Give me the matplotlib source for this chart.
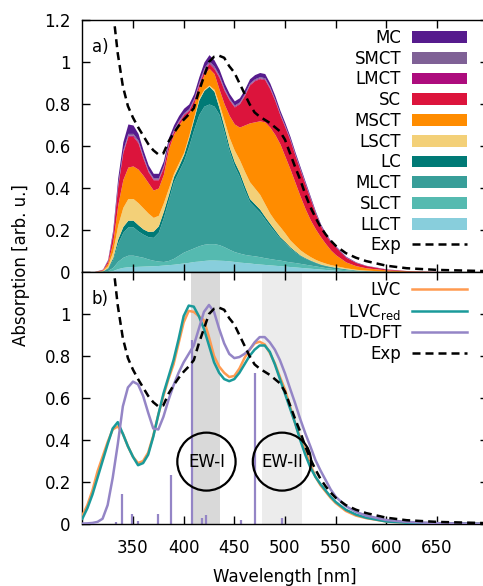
import numpy as np
import matplotlib
matplotlib.use('Agg')
import matplotlib.pyplot as plt
from matplotlib.patches import Ellipse
from matplotlib.ticker import FuncFormatter

# ---------------- panel a) : stacked decomposition ----------------
wl = [300, 310, 320, 325, 330, 335, 340, 345, 350, 355,
      360, 365, 370, 375, 380, 385, 390, 395, 400, 405,
      410, 415, 420, 425, 430, 435, 440, 445, 450, 455,
      460, 465, 470, 475, 480, 485, 490, 495, 500, 505,
      510, 515, 520, 525, 530, 535, 540, 545, 550,
      560, 570, 580, 600, 620, 650, 700]

# upper edge of the whole stack (top of MC)
total = [0, 0, 0.014, 0.06, 0.20, 0.45, 0.62, 0.705, 0.70, 0.66,
         0.58, 0.51, 0.47, 0.47, 0.53, 0.64, 0.70, 0.745, 0.78, 0.80,
         0.85, 0.93, 1.00, 1.035, 1.01, 0.965, 0.90, 0.85, 0.815, 0.83,
         0.87, 0.92, 0.94, 0.95, 0.945, 0.90, 0.84, 0.77, 0.71, 0.645,
         0.57, 0.50, 0.43, 0.36, 0.29, 0.23, 0.185, 0.15, 0.125,
         0.075, 0.048, 0.032, 0.015, 0.007, 0.003, 0.0]
# thin bands (thickness)
mc = [0, 0, 0.001, 0.004, 0.012, 0.029, 0.039, 0.045, 0.04, 0.033,
      0.028, 0.024, 0.022, 0.022, 0.022, 0.022, 0.022, 0.022, 0.022, 0.022,
      0.022, 0.025, 0.028, 0.03, 0.03, 0.028, 0.025, 0.022, 0.02, 0.02,
      0.02, 0.02, 0.02, 0.02, 0.02, 0.018, 0.017, 0.015, 0.014, 0.012,
      0.011, 0.01, 0.009, 0.008, 0.007, 0.006, 0.005, 0.004, 0.004,
      0.003, 0.002, 0.001, 0.001, 0, 0, 0]
smct = [0, 0, 0.0003, 0.001, 0.003, 0.006, 0.007, 0.008, 0.008, 0.007,
        0.006, 0.005, 0.005, 0.005, 0.005, 0.005, 0.005, 0.005, 0.005, 0.005,
        0.005, 0.006, 0.007, 0.007, 0.007, 0.006, 0.006, 0.005, 0.005, 0.005,
        0.005, 0.005, 0.005, 0.005, 0.005, 0.005, 0.004, 0.004, 0.004, 0.003,
        0.003, 0.003, 0.002, 0.002, 0.002, 0.002, 0.001, 0.001, 0.001,
        0.001, 0.0005, 0.0003, 0.0001, 0, 0, 0]
lmct = [0, 0, 0.0002, 0.001, 0.002, 0.004, 0.005, 0.006, 0.006, 0.005,
        0.005, 0.004, 0.004, 0.004, 0.004, 0.004, 0.004, 0.004, 0.004, 0.004,
        0.004, 0.005, 0.005, 0.005, 0.005, 0.005, 0.005, 0.004, 0.004, 0.004,
        0.004, 0.004, 0.004, 0.004, 0.004, 0.004, 0.003, 0.003, 0.003, 0.003,
        0.002, 0.002, 0.002, 0.002, 0.001, 0.001, 0.001, 0.001, 0.001,
        0.0005, 0.0003, 0.0002, 0.0001, 0, 0, 0]
# upper edges of the lower bands (cumulative)
msct_top = [0, 0, 0.010, 0.043, 0.14, 0.32, 0.44, 0.50, 0.505, 0.49,
            0.46, 0.425, 0.39, 0.40, 0.465, 0.585, 0.655, 0.70, 0.735, 0.755,
            0.80, 0.875, 0.94, 0.97, 0.945, 0.87, 0.80, 0.745, 0.705, 0.69,
            0.70, 0.71, 0.715, 0.72, 0.715, 0.69, 0.655, 0.61, 0.55, 0.49,
            0.425, 0.36, 0.30, 0.248, 0.205, 0.168, 0.135, 0.105, 0.082,
            0.048, 0.03, 0.02, 0.01, 0.005, 0.002, 0]
lsct_top = [0, 0, 0.007, 0.030, 0.098, 0.224, 0.308, 0.35, 0.35, 0.33,
            0.305, 0.28, 0.26, 0.27, 0.33, 0.40, 0.47, 0.52, 0.57, 0.65,
            0.74, 0.83, 0.87, 0.89, 0.87, 0.80, 0.72, 0.64, 0.58, 0.535,
            0.48, 0.43, 0.40, 0.37, 0.325, 0.28, 0.245, 0.216, 0.185, 0.152,
            0.128, 0.105, 0.088, 0.073, 0.06, 0.05, 0.042, 0.035, 0.03,
            0.02, 0.013, 0.009, 0.004, 0.002, 0.001, 0]
lc_top = [0, 0, 0.005, 0.021, 0.069, 0.158, 0.217, 0.247, 0.247, 0.225,
          0.205, 0.193, 0.195, 0.22, 0.29, 0.37, 0.455, 0.505, 0.56, 0.64,
          0.73, 0.82, 0.865, 0.885, 0.86, 0.78, 0.69, 0.595, 0.525, 0.475,
          0.41, 0.35, 0.325, 0.30, 0.265, 0.232, 0.20, 0.168, 0.145, 0.12,
          0.10, 0.081, 0.068, 0.057, 0.047, 0.038, 0.032, 0.027, 0.023,
          0.016, 0.01, 0.007, 0.003, 0.0015, 0.0005, 0]
mlct_top = [0, 0, 0.004, 0.018, 0.06, 0.138, 0.189, 0.215, 0.215, 0.195,
            0.18, 0.168, 0.165, 0.19, 0.26, 0.345, 0.43, 0.48, 0.53, 0.60,
            0.68, 0.75, 0.79, 0.80, 0.79, 0.75, 0.665, 0.575, 0.505, 0.455,
            0.39, 0.335, 0.31, 0.285, 0.252, 0.22, 0.19, 0.16, 0.138, 0.115,
            0.095, 0.078, 0.065, 0.055, 0.045, 0.036, 0.03, 0.026, 0.022,
            0.015, 0.0095, 0.0065, 0.0028, 0.0014, 0.0005, 0]
slct_top = [0, 0, 0.002, 0.007, 0.022, 0.051, 0.07, 0.08, 0.08, 0.075,
            0.07, 0.062, 0.056, 0.052, 0.05, 0.055, 0.065, 0.08, 0.095, 0.105,
            0.115, 0.125, 0.132, 0.135, 0.135, 0.13, 0.12, 0.108, 0.097, 0.09,
            0.084, 0.08, 0.077, 0.073, 0.068, 0.064, 0.06, 0.057, 0.052, 0.048,
            0.045, 0.041, 0.037, 0.033, 0.029, 0.025, 0.021, 0.018, 0.015,
            0.011, 0.007, 0.005, 0.002, 0.001, 0.0004, 0]
llct_top = [0, 0, 0.0005, 0.002, 0.007, 0.016, 0.022, 0.025, 0.026, 0.027,
            0.028, 0.029, 0.03, 0.031, 0.033, 0.035, 0.037, 0.04, 0.043, 0.046,
            0.05, 0.052, 0.055, 0.057, 0.057, 0.056, 0.055, 0.053, 0.05, 0.047,
            0.045, 0.043, 0.04, 0.038, 0.036, 0.034, 0.032, 0.03, 0.028, 0.026,
            0.024, 0.022, 0.02, 0.018, 0.016, 0.014, 0.012, 0.01, 0.009,
            0.006, 0.004, 0.003, 0.001, 0.0005, 0.0002, 0]

comp_names = ['LLCT', 'SLCT', 'MLCT', 'LC', 'LSCT', 'MSCT', 'SC', 'LMCT', 'SMCT', 'MC']
comp_colors = ['#88cedc', '#55bab0', '#389e99', '#007a76', '#f3d078',
               '#ff8c00', '#dc143c', '#ad0c7d', '#7f6196', '#561b8d']

# ---------------- experiment ----------------
exp_wl = [332, 335, 340, 345, 350, 355, 360, 365, 370, 375,
          380, 385, 390, 395, 400, 405, 410, 415, 420, 425,
          430, 435, 440, 445, 450, 455, 460, 465, 470, 475,
          480, 485, 490, 495, 500, 505, 510, 515, 520, 525,
          530, 535, 540, 545, 550, 560, 570, 580, 600, 620, 650, 700]
exp = [1.17, 1.04, 0.885, 0.79, 0.735, 0.69, 0.65, 0.61, 0.58, 0.56,
       0.565, 0.62, 0.66, 0.695, 0.725, 0.75, 0.78, 0.86, 0.93, 1.0,
       1.025, 1.03, 1.02, 0.98, 0.95, 0.90, 0.85, 0.80, 0.76, 0.74,
       0.725, 0.71, 0.69, 0.67, 0.63, 0.565, 0.50, 0.44, 0.37, 0.31,
       0.26, 0.215, 0.18, 0.15, 0.125, 0.09, 0.068, 0.052, 0.03, 0.018, 0.01, 0.004]

# ---------------- panel b) : simulated spectra ----------------
wl_b = [300, 305, 310, 315, 320, 325, 330, 335, 340, 345,
        350, 355, 360, 365, 370, 375, 380, 385, 390, 395,
        400, 405, 410, 415, 420, 425, 430, 435, 440, 445,
        450, 455, 460, 465, 470, 475, 480, 485, 490, 495,
        500, 505, 510, 515, 520, 525, 530, 535, 540, 545,
        550, 560, 570, 580, 600, 620, 650, 700]
lvc = [0.04, 0.09, 0.16, 0.25, 0.32, 0.39, 0.45, 0.465, 0.43, 0.37,
       0.32, 0.29, 0.30, 0.34, 0.42, 0.52, 0.61, 0.69, 0.76, 0.86,
       0.96, 1.015, 1.01, 0.99, 0.97, 0.89, 0.80, 0.75, 0.72, 0.70,
       0.705, 0.74, 0.79, 0.83, 0.86, 0.868, 0.855, 0.815, 0.765, 0.70,
       0.64, 0.56, 0.48, 0.41, 0.35, 0.285, 0.225, 0.185, 0.155, 0.125,
       0.10, 0.062, 0.04, 0.028, 0.012, 0.006, 0.003, 0.001]
lvc_red = [0.025, 0.075, 0.14, 0.22, 0.30, 0.38, 0.455, 0.485, 0.43, 0.37,
           0.32, 0.28, 0.29, 0.33, 0.415, 0.52, 0.62, 0.70, 0.78, 0.88,
           0.99, 1.04, 1.035, 0.99, 0.93, 0.85, 0.77, 0.72, 0.69, 0.68,
           0.69, 0.72, 0.76, 0.80, 0.83, 0.85, 0.85, 0.82, 0.76, 0.69,
           0.62, 0.55, 0.48, 0.40, 0.33, 0.27, 0.225, 0.19, 0.16, 0.13,
           0.105, 0.068, 0.045, 0.03, 0.012, 0.006, 0.003, 0.001]
tddft = [0.002, 0.003, 0.005, 0.01, 0.025, 0.09, 0.22, 0.38, 0.56, 0.65,
         0.678, 0.665, 0.61, 0.53, 0.455, 0.45, 0.51, 0.59, 0.66, 0.72,
         0.77, 0.81, 0.85, 0.93, 1.01, 1.043, 1.01, 0.93, 0.86, 0.81,
         0.79, 0.795, 0.81, 0.83, 0.865, 0.89, 0.89, 0.865, 0.83, 0.78,
         0.717, 0.645, 0.575, 0.50, 0.432, 0.37, 0.305, 0.255, 0.21, 0.165,
         0.13, 0.085, 0.058, 0.04, 0.019, 0.01, 0.004, 0.001]
stick_wl = [333, 339, 349.5, 355, 375, 388, 408.5, 418, 422.5, 456.5, 470, 497]
stick_f = [0.01, 0.145, 0.05, 0.012, 0.05, 0.232, 0.875, 0.03, 0.045, 0.02, 0.717, 0.03]

ew_labels = ['EW-I', 'EW-II']
ew_bands = [(407.5, 435.5), (477.0, 516.5)]
ew_band_colors = ['#d9d9d9', '#ececec']
ew_centers = [(422.5, 0.297), (497.0, 0.297)]

# ---------------- figure ----------------
plt.rcParams['font.family'] = ['DejaVu Sans']
plt.rcParams['font.size'] = 12
plt.rcParams['mathtext.fontset'] = 'dejavusans'

fig = plt.figure(figsize=(4.83, 5.86), dpi=100)
L = 82.3 / 483
W = 405.4 / 483
H = 252 / 586
ax1 = fig.add_axes([L, (586 - 272) / 586, W, H])
ax2 = fig.add_axes([L, (586 - 524) / 586, W, H])

x = np.array(wl, dtype=float)
tot = np.array(total)
smct_top = tot - np.array(mc)
lmct_top = smct_top - np.array(smct)
sc_top = lmct_top - np.array(lmct)
levels = [np.zeros_like(x), np.array(llct_top), np.array(slct_top), np.array(mlct_top),
          np.array(lc_top), np.array(lsct_top), np.array(msct_top), sc_top,
          lmct_top, smct_top, tot]
handles = []
for i, (name, col) in enumerate(zip(comp_names, comp_colors)):
    h = ax1.fill_between(x, levels[i], np.maximum(levels[i + 1], levels[i]),
                         color=col, lw=0, label=name)
    handles.append(h)
dash = (0, (3.2, 2.0))
hexp, = ax1.plot(exp_wl, exp, color='k', lw=1.8, ls=dash, label='Exp')
leg_h = handles[::-1] + [hexp]
leg_kw = dict(loc='upper right', frameon=False, markerfirst=False,
              handlelength=3.3, handleheight=0.72, handletextpad=0.66,
              labelspacing=0.165, borderpad=0, borderaxespad=0, fontsize=12)
ax1.legend(leg_h, [h.get_label() for h in leg_h], bbox_to_anchor=(0.949, 0.965), **leg_kw)

# panel b
for (a, b), c in zip(ew_bands, ew_band_colors):
    ax2.axvspan(a, b, color=c, lw=0, zorder=0)
ax2.vlines(stick_wl, 0, stick_f, color='#9485c6', lw=1.6, zorder=2)
l1, = ax2.plot(wl_b, lvc, color='#ff9a50', lw=1.8, label='LVC', zorder=3)
l2, = ax2.plot(wl_b, lvc_red, color='#1a9a9a', lw=1.8, label=r'LVC$_{\mathrm{red}}$', zorder=3)
l3, = ax2.plot(wl_b, tddft, color='#9485c6', lw=1.8, label='TD-DFT', zorder=3)
l4, = ax2.plot(exp_wl, exp, color='k', lw=1.8, ls=dash, label='Exp', zorder=4)
ax2.legend([l1, l2, l3, l4], [l.get_label() for l in [l1, l2, l3, l4]],
           bbox_to_anchor=(0.949, 0.965), **leg_kw)
for lab, (cx, cy) in zip(ew_labels, ew_centers):
    ax2.add_patch(Ellipse((cx, cy), 57.5, 0.276, fill=False, ec='k', lw=1.6, zorder=5))
    ax2.text(cx, cy, lab, ha='center', va='center', fontsize=12, zorder=6)

fmt = FuncFormatter(lambda v, p: f'{v:g}')
for ax in (ax1, ax2):
    ax.set_xlim(300, 700)
    ax.set_ylim(0, 1.2)
    ax.set_xticks([350, 400, 450, 500, 550, 600, 650])
    ax.tick_params(direction='in', top=True, right=True, length=6, width=1.0,
                   labelsize=12)
    ax.tick_params(axis='y', pad=8.3)
    ax.tick_params(axis='x', pad=10.5)
    ax.yaxis.set_major_formatter(fmt)
    for s in ax.spines.values():
        s.set_linewidth(1.0)
ax1.set_yticks([0, 0.2, 0.4, 0.6, 0.8, 1.0, 1.2])
ax1.tick_params(labelbottom=False)
ax2.set_yticks([0, 0.2, 0.4, 0.6, 0.8, 1.0])

ax1.text((100 - 82.3) / 405.4, 1 - 27 / 252, 'a)', transform=ax1.transAxes,
         ha='center', va='center', fontsize=12)
ax2.text((100 - 82.3) / 405.4, 1 - 27 / 252, 'b)', transform=ax2.transAxes,
         ha='center', va='center', fontsize=12)

fig.text(20.7 / 483, 1 - 265 / 586, 'Absorption [arb. u.]', rotation=90,
         ha='center', va='center', fontsize=12)
fig.text(285 / 483, 1 - 582 / 586, 'Wavelength [nm]', ha='center', va='baseline',
         fontsize=12)

fig.savefig('out.png', dpi=100)
